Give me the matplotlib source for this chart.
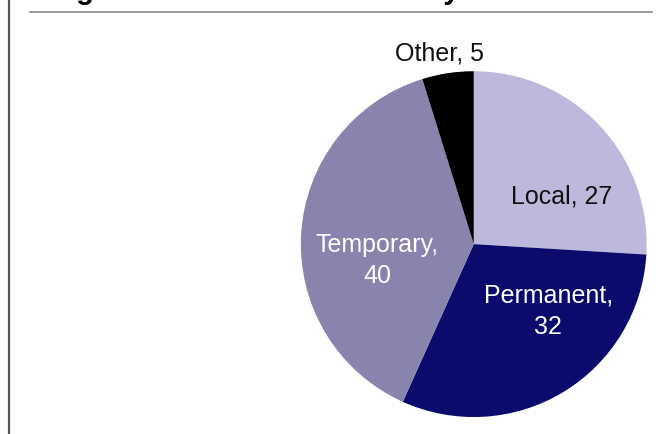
import matplotlib.pyplot as plt
from matplotlib.lines import Line2D

plt.rcParams['font.family'] = ['Liberation Sans', 'DejaVu Sans']

# data
categories = ["Local", "Permanent", "Temporary", "Other"]
values = [27, 32, 40, 5]
colors = ["#bdb9dd", "#0b0b6d", "#8984ae", "#000000"]

# label placement (pie coordinates) and text colour
label_pos = [(0.51, 0.28), (0.43, -0.38), (-0.56, -0.09), (-0.20, 1.11)]
label_text = ["Local, 27", "Permanent,\n32", "Temporary,\n40", "Other, 5"]
label_color = ["#111111", "white", "white", "#111111"]

fig = plt.figure(figsize=(6.64, 4.35), dpi=100)
fig.patch.set_facecolor("white")

ax = fig.add_axes([0.453, 0.039, 0.521, 0.795])
ax.pie(values, colors=colors, startangle=90, counterclock=False,
       wedgeprops={"linewidth": 0})
ax.set_xlim(-1, 1)
ax.set_ylim(-1, 1)
ax.set_aspect("equal")
ax.axis("off")

for (x, y), txt, c in zip(label_pos, label_text, label_color):
    ax.text(x, y, txt, color=c, fontsize=18, ha="center", va="center",
            linespacing=1.4, clip_on=False)

# frame pieces of the cropped report figure
fig.add_artist(Line2D([9 / 664, 9 / 664], [0, 1], color="#555555", lw=1.6))
fig.add_artist(Line2D([30 / 664, 652 / 664], [1 - 13 / 435, 1 - 13 / 435],
                      color="#8a8a8a", lw=1.2))

# title, cut off by the top edge in the source (only descenders show)
fig.text(50 / 664, 1 + 1.5 / 435, "Figure 3: Share of workers by status",
         fontsize=21, fontweight="bold", ha="left", va="baseline")

fig.savefig("out.png", dpi=100)
